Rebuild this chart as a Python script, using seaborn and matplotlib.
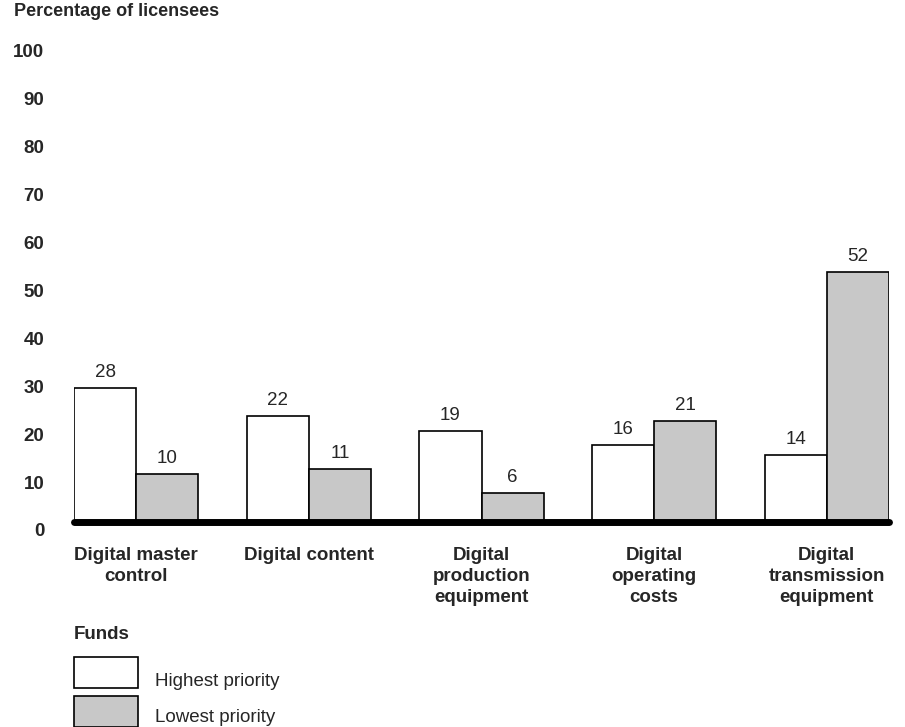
import pandas as pd
import numpy as np
import matplotlib.pyplot as plt
import matplotlib.transforms as mtransforms
import seaborn as sns

# Dados
categorias = ["Digital master\ncontrol", "Digital content", "Digital\nproduction\nequipment",
              "Digital\noperating\ncosts", "Digital\ntransmission\nequipment"]
maior_prioridade = [28, 22, 19, 16, 14]
menor_prioridade = [10, 11, 6, 21, 52]
series = ["Highest priority", "Lowest priority"]

df = pd.DataFrame({
    "categoria": categorias * 2,
    "valor": maior_prioridade + menor_prioridade,
    "fundo": [series[0]] * 5 + [series[1]] * 5,
})

sns.set_theme(style="white")
plt.rcParams['font.family'] = ['Liberation Sans', 'DejaVu Sans']

fs = 13.5

fig = plt.figure(figsize=(9.05, 7.27), dpi=100)
ax = fig.add_axes([74 / 905, 1 - 522 / 727, 815 / 905, 480 / 727])

sns.barplot(data=df, x="categoria", y="valor", hue="fundo", order=categorias,
            hue_order=series, palette=["white", "#c8c8c8"], edgecolor="black",
            linewidth=1.2, width=0.72, saturation=1, ax=ax, legend=True)

ax.set_xlim(-0.36, 4.36)
ax.set_ylim(0, 100)
ax.set_yticks(range(0, 101, 10))
ax.set_xlabel("")
ax.set_ylabel("")
sns.despine(ax=ax, left=True, bottom=True)
ax.tick_params(axis="both", length=0)
ax.tick_params(axis="y", pad=21.5, labelsize=fs)
ax.tick_params(axis="x", pad=18, labelsize=fs)
for t in ax.get_yticklabels():
    t.set_fontweight("bold")
for t in ax.get_xticklabels():
    t.set_fontweight("bold")
    t.set_linespacing(1.3)

# rótulos do eixo y ligeiramente abaixo das linhas
desloc = mtransforms.ScaledTranslation(0, -8 / 100, fig.dpi_scale_trans)
for t in ax.get_yticklabels():
    t.set_transform(t.get_transform() + desloc)

# linha de base grossa
ax.axhline(0, color="black", lw=5, clip_on=False, zorder=5)

# valores acima das barras
for c in ax.containers:
    ax.bar_label(c, padding=5, fontsize=fs)

fig.text(14 / 905, 1 - 12 / 727, "Percentage of licensees", fontsize=13,
         fontweight="bold", va="center", ha="left")

ax.legend_.remove()
h, l = ax.get_legend_handles_labels()
leg = fig.legend(h, l, title="Funds", loc="upper left",
                 bbox_to_anchor=(74 / 905, 1 - 632 / 727), frameon=False,
                 fontsize=fs, handlelength=3.4, handleheight=2.17,
                 labelspacing=0.43, handletextpad=0.9, borderpad=0,
                 borderaxespad=0, alignment="left")
leg.get_title().set_fontweight("bold")
leg.get_title().set_fontsize(fs)
leg.get_title().set_y(6)
textos = leg.get_texts()
textos[0].set_y(-8)
textos[1].set_y(-4)

plt.savefig("out.png", dpi=100)
